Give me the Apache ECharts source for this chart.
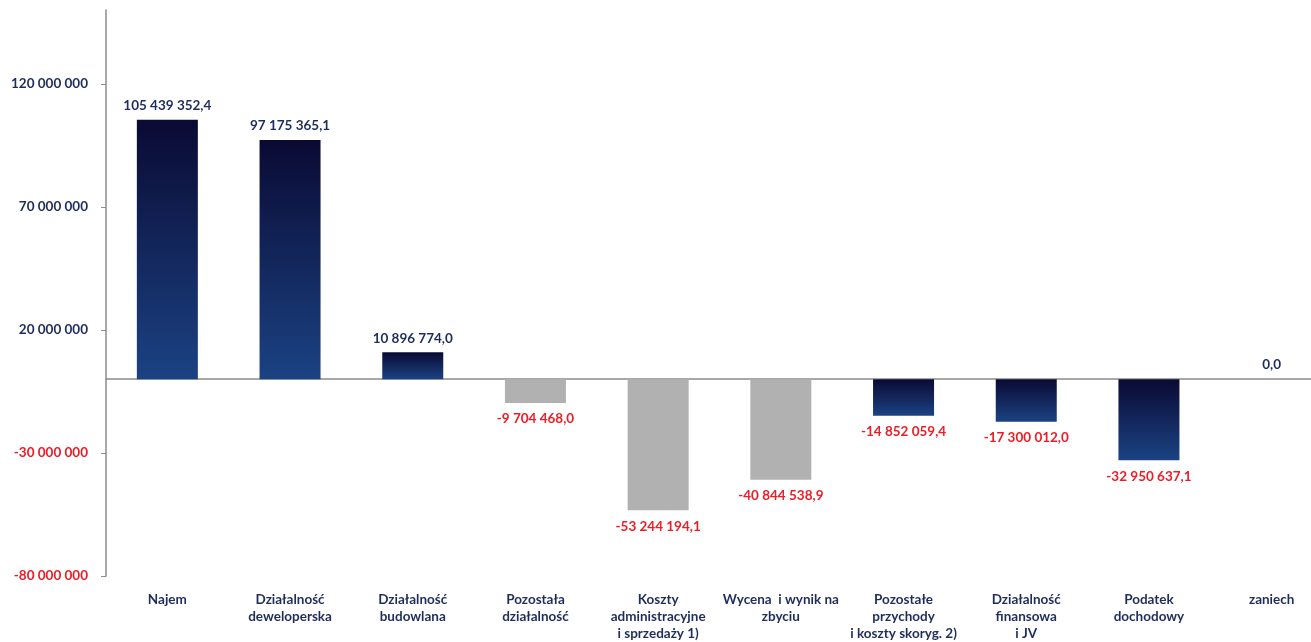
<!DOCTYPE html>
<html><head><meta charset="utf-8">
<script src="https://cdn.jsdelivr.net/npm/echarts@6/dist/echarts.min.js"></script>
<style>html,body{margin:0;padding:0;background:#fff;overflow:hidden}#c{width:1334px;height:642px}</style>
</head><body><div id="c"></div>
<script>
const categories = ["Najem","Działalność\ndeweloperska","Działalność\nbudowlana","Pozostała\ndziałalność","Koszty\nadministracyjne\ni sprzedaży 1)","Wycena  i wynik na\nzbyciu","Pozostałe\nprzychody\ni koszty skoryg. 2)","Działalność\nfinansowa\ni JV","Podatek\ndochodowy","zaniech"];
const values = [105439352.4, 97175365.1, 10896774.0, -9704468.0, -53244194.1, -40844538.9, -14852059.4, -17300012.0, -32950637.1, 0.0];
const greyBars = [false,false,false,true,true,true,false,false,false,false];
const yTicks = [-80000000,-30000000,20000000,70000000,120000000];

const NAVY = '#1f2d5c', RED = '#ee1c25';
function fmt(v){
  const neg = v < 0; const a = Math.abs(v);
  let s = a.toFixed(1); let [i,d] = s.split('.');
  i = i.replace(/\B(?=(\d{3})+(?!\d))/g,' ');
  return (neg?'-':'') + i + ',' + d;
}
const grad = () => new echarts.graphic.LinearGradient(0,0,0,1,[{offset:0,color:'#0a0a33'},{offset:1,color:'#1b4283'}]);
const data = values.map((v,i)=>({
  value:v,
  itemStyle:{color: greyBars[i] ? '#b1b1b1' : grad()},
  label:{position: v<0?'bottom':'top', color: v<0?RED:NAVY, distance: v<0?9:7}
}));
const chart = echarts.init(document.getElementById('c'));
chart.setOption({
  animation:false,
  grid:{left:106, top:10, bottom:65, width:1227},
  xAxis:[{
    type:'category', data:categories, position:'bottom',
    axisLine:{show:false, onZero:false}, axisTick:{show:false},
    axisLabel:{interval:0, margin:15, color:NAVY, fontFamily:'Lato', fontWeight:'bold', fontSize:13.5, lineHeight:17}
  },{
    type:'category', data:categories, position:'bottom',
    axisLine:{show:true, onZero:true, lineStyle:{color:'#8c8c8c', width:1.5}}, axisTick:{show:false}, axisLabel:{show:false}
  }],
  yAxis:{
    type:'value', min:-80000000, max:150000000, interval:50000000,
    splitLine:{show:false},
    axisLine:{show:true, lineStyle:{color:'#8c8c8c', width:1.5}},
    axisTick:{show:true, inside:false, length:5, lineStyle:{color:'#8c8c8c'}},
    axisLabel:{margin:18, fontFamily:'Lato', fontWeight:'bold', fontSize:13.5, showMaxLabel:false,
      formatter:v => yTicks.includes(v) ? fmt(v).replace(/,0$/,'') : '',
      color:v => v<0?RED:NAVY}
  },
  series:[{
    type:'bar', data:data, barWidth:61, xAxisIndex:0,
    label:{show:true, fontFamily:'Lato', fontWeight:'bold', fontSize:13.5, formatter:p=>fmt(p.value)}
  }]
});
</script></body></html>
